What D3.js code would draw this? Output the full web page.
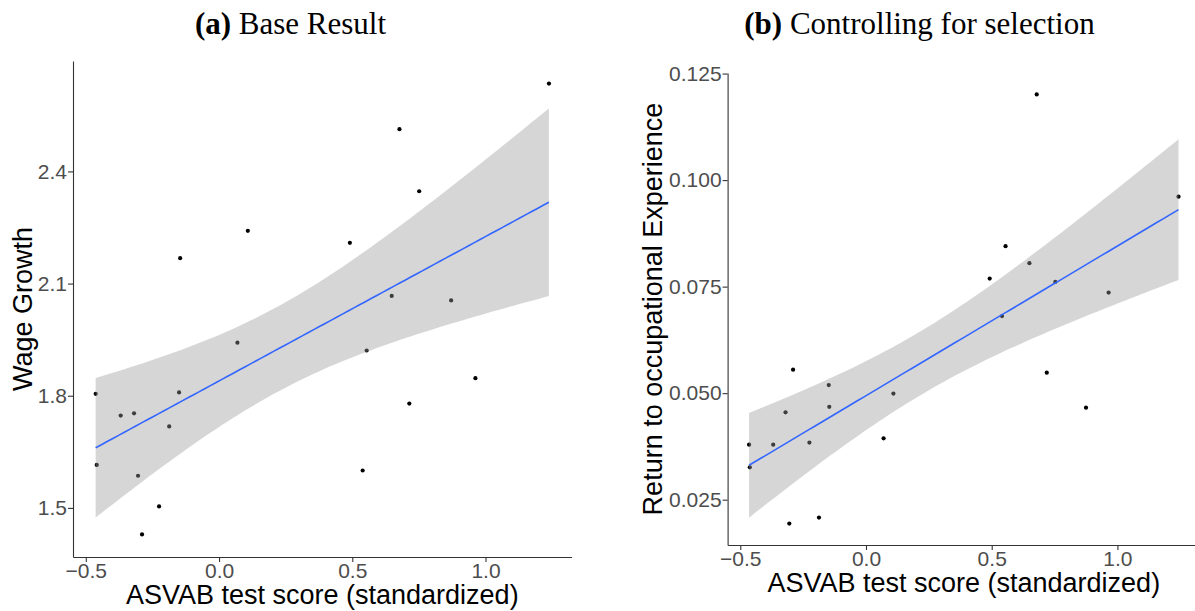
<!DOCTYPE html>
<html>
<head>
<meta charset="utf-8">
<script src="https://cdn.jsdelivr.net/npm/d3@7"></script>
<style>
  html, body { margin: 0; padding: 0; background: #fff; }
  svg { display: block; }
</style>
</head>
<body>
<svg id="chart" width="1195" height="611"></svg>
<script>
// ---------- Data ----------
const baseX = [-0.463, -0.459, -0.369, -0.319, -0.304, -0.289, -0.225, -0.187, -0.150, -0.146, 0.069, 0.108, 0.491, 0.539, 0.554, 0.648, 0.677, 0.714, 0.751, 0.871, 0.962, 1.238];
const baseY = [1.805, 1.615, 1.747, 1.753, 1.586, 1.429, 1.504, 1.718, 1.809, 2.168, 1.942, 2.241, 2.209, 1.600, 1.921, 2.067, 2.513, 1.779, 2.347, 2.055, 1.847, 2.635];

const selX = [-0.465, -0.462, -0.369, -0.320, -0.305, -0.290, -0.225, -0.187, -0.148, -0.146, 0.070, 0.109, 0.492, 0.541, 0.555, 0.650, 0.679, 0.719, 0.753, 0.875, 0.965, 1.243];
const selY = [0.0379, 0.0326, 0.0379, 0.0455, 0.0194, 0.0555, 0.0384, 0.0208, 0.0519, 0.0468, 0.0394, 0.0499, 0.0769, 0.0681, 0.0845, 0.0805, 0.1201, 0.0548, 0.0761, 0.0466, 0.0736, 0.0961];

const xTicks = [-0.5, 0.0, 0.5, 1.0];
const baseYTicks = [1.5, 1.8, 2.1, 2.4];
const selYTicks = [0.025, 0.050, 0.075, 0.100, 0.125];

const titleA = ["(a)", " Base Result"];
const titleB = ["(b)", " Controlling for selection"];
const xLabel = "ASVAB test score (standardized)";
const yLabelA = "Wage Growth";
const yLabelB = "Return to occupational Experience";

// ---------- Helpers ----------
const svg = d3.select("#chart");

function expand(vals) {
  const [lo, hi] = d3.extent(vals);
  const pad = (hi - lo) * 0.05;
  return [lo - pad, hi + pad];
}

function fitLM(xs, ys) {
  const n = xs.length;
  const mx = d3.mean(xs), my = d3.mean(ys);
  let sxx = 0, sxy = 0;
  for (let i = 0; i < n; i++) { sxx += (xs[i]-mx)**2; sxy += (xs[i]-mx)*(ys[i]-my); }
  const b = sxy / sxx, a = my - b * mx;
  let sse = 0;
  for (let i = 0; i < n; i++) sse += (ys[i] - a - b*xs[i])**2;
  const s = Math.sqrt(sse / (n - 2));
  const t = 2.085963; // qt(0.975, 20)
  const [lo, hi] = d3.extent(xs);
  const grid = d3.range(80).map(i => lo + (hi - lo) * i / 79);
  return grid.map(x => {
    const fit = a + b * x;
    const se = s * Math.sqrt(1/n + (x - mx)**2 / sxx);
    return { x, fit, lo: fit - t*se, hi: fit + t*se };
  });
}

function panel(cfg) {
  const g = svg.append("g");
  const x = d3.scaleLinear().domain(expand(cfg.xs)).range(cfg.xRange);
  const y = d3.scaleLinear().domain(expand(cfg.ys)).range(cfg.yRange);

  // points
  g.append("g").selectAll("circle")
    .data(cfg.xs.map((v, i) => [v, cfg.ys[i]]))
    .join("circle")
    .attr("cx", d => x(d[0])).attr("cy", d => y(d[1]))
    .attr("r", 2.1).attr("fill", "#000");

  // smooth
  const fit = fitLM(cfg.xs, cfg.ys);
  g.append("path").datum(fit)
    .attr("d", d3.area().x(d => x(d.x)).y0(d => y(d.lo)).y1(d => y(d.hi)))
    .attr("fill", "#999999").attr("fill-opacity", 0.4);
  g.append("path").datum(fit)
    .attr("d", d3.line().x(d => x(d.x)).y(d => y(d.fit)))
    .attr("fill", "none").attr("stroke", "#3366FF").attr("stroke-width", 1.6);

  // axes
  const xAxis = g.append("g").attr("transform", `translate(0,${cfg.yRange[0]})`)
    .call(d3.axisBottom(x).tickValues(xTicks).tickFormat(d3.format(".1f")).tickSize(5).tickPadding(1).tickSizeOuter(0));
  const yAxis = g.append("g").attr("transform", `translate(${cfg.xRange[0]},0)`)
    .call(d3.axisLeft(y).tickValues(cfg.yTicks).tickFormat(d3.format(cfg.yFmt)).tickSize(5).tickPadding(1).tickSizeOuter(0));
  [xAxis, yAxis].forEach(a => {
    a.select(".domain").attr("stroke", "#333333").attr("stroke-width", 1.1);
    a.selectAll(".tick line").attr("stroke", "#333333").attr("stroke-width", 1.1);
    a.selectAll(".tick text").attr("fill", "#4D4D4D")
      .style("font-family", "'Liberation Sans', Arial, sans-serif").style("font-size", "21px");
  });

  // axis titles
  g.append("text").attr("x", (cfg.xRange[0] + cfg.xRange[1]) / 2).attr("y", cfg.xTitleY)
    .attr("text-anchor", "middle")
    .style("font-family", "'Liberation Sans', Arial, sans-serif").style("font-size", "27px")
    .attr("fill", "#000").text(xLabel);
  g.append("text")
    .attr("transform", `translate(${cfg.yTitleX},${(cfg.yRange[0] + cfg.yRange[1]) / 2}) rotate(-90)`)
    .attr("text-anchor", "middle")
    .style("font-family", "'Liberation Sans', Arial, sans-serif").style("font-size", "27px")
    .attr("fill", "#000").text(cfg.yLabel);

  // title
  const t = svg.append("text").attr("x", cfg.titleX).attr("y", 34).attr("text-anchor", "middle")
    .style("font-family", "'Liberation Serif', 'Times New Roman', serif").style("font-size", "31px").attr("fill", "#000");
  t.append("tspan").attr("font-weight", "bold").text(cfg.title[0]);
  t.append("tspan").text(cfg.title[1]);
}

panel({
  xs: baseX, ys: baseY, xRange: [73, 571.6], yRange: [557, 61],
  yTicks: baseYTicks, yFmt: ".1f", xTitleY: 604, yTitleX: 32,
  yLabel: yLabelA, title: titleA, titleX: 290.5
});
panel({
  xs: selX, ys: selY, xRange: [727.6, 1200], yRange: [545, 73],
  yTicks: selYTicks, yFmt: ".3f", xTitleY: 592, yTitleX: 662,
  yLabel: yLabelB, title: titleB, titleX: 919.5
});
</script>
</body>
</html>
